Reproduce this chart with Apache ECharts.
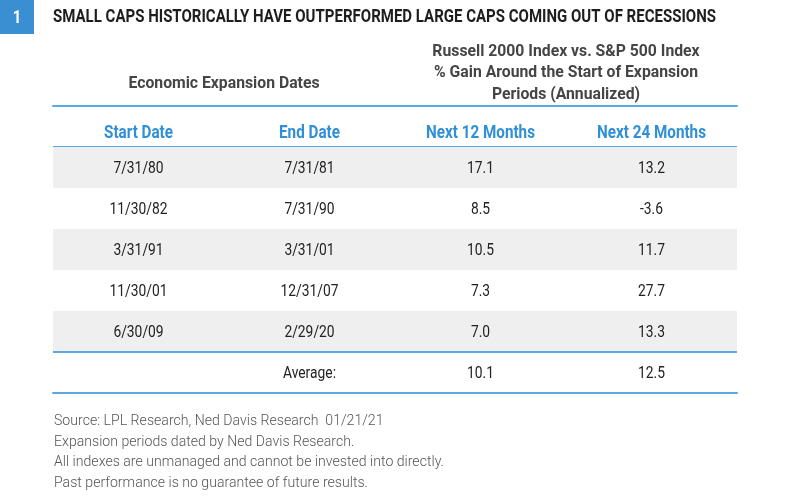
<!DOCTYPE html>
<html>
<head>
<meta charset="utf-8">
<script src="https://cdn.jsdelivr.net/npm/echarts@6/dist/echarts.min.js"></script>
<style>
  html, body { margin: 0; padding: 0; background: #fff; }
  #chart { width: 800px; height: 501px; }
</style>
</head>
<body>
<div id="chart"></div>
<script>
// table data
const columns = ["Start Date", "End Date", "Next 12 Months", "Next 24 Months"];
const startDates = ["7/31/80", "11/30/82", "3/31/91", "11/30/01", "6/30/09"];
const endDates = ["7/31/81", "7/31/90", "3/31/01", "12/31/07", "2/29/20"];
const next12 = [17.1, 8.5, 10.5, 7.3, 7.0];
const next24 = [13.2, -3.6, 11.7, 27.7, 13.3];
const averageLabel = "Average:";
const average12 = 10.1;
const average24 = 12.5;

const titleText = "SMALL CAPS HISTORICALLY HAVE OUTPERFORMED LARGE CAPS COMING OUT OF RECESSIONS";
const leftHeader = "Economic Expansion Dates";
const rightHeader = ["Russell 2000 Index vs. S&P 500 Index", "% Gain Around the Start of Expansion", "Periods (Annualized)"];
const notes = [
    "Source: LPL Research, Ned Davis Research  01/21/21",
    "Expansion periods dated by Ned Davis Research.",
    "All indexes are unmanaged and cannot be invested into directly.",
    "Past performance is no guarantee of future results."
];

const FAMILY = "Roboto, 'Liberation Sans', sans-serif";
const BLUE = "#2f8fd8";
const LINE = "#5aa9e3";
const SHADE = "#efefef";

const F_TITLE = "bold 18px " + FAMILY;
const F_HEAD = "bold 16px " + FAMILY;
const F_COL = "bold 18px " + FAMILY;
const F_BODY = "17px " + FAMILY;
const F_NOTE = "300 15px " + FAMILY;

// the original uses a condensed face; squeeze the installed one to the same widths
const measureCtx = document.createElement("canvas").getContext("2d");
function squeeze(text, font, width) {
    measureCtx.font = font;
    return width / measureCtx.measureText(text).width;
}
const kTitle = squeeze(titleText, F_TITLE, 663);
const kHead = squeeze(leftHeader, F_HEAD, 191);
const kCol = squeeze(columns[0], F_COL, 69);
const kBody = squeeze(startDates[1], F_BODY, 58);
const kNote = squeeze(notes[2], F_NOTE, 390);

// layout
const gridLeft = 53, gridRight = 63, gridTop = 106, gridBottom = 108;
const tableWidth = 800 - gridLeft - gridRight;

// rows: header + 5 expansions + average
const rowNames = ["header"].concat(startDates.map((d, i) => "row" + i), ["avg"]);
const cells = [];
columns.forEach((v, c) => cells.push({ value: [c, 0], text: v, kind: "header" }));
startDates.forEach((d, i) => {
    const vals = [d, endDates[i], next12[i].toFixed(1), next24[i].toFixed(1)];
    vals.forEach((v, c) => cells.push({ value: [c, i + 1], text: v, kind: i % 2 === 0 ? "shaded" : "plain" }));
});
["", averageLabel, average12.toFixed(1), average24.toFixed(1)].forEach((v, c) =>
    cells.push({ value: [c, startDates.length + 1], text: v, kind: "avg" }));

function renderCell(params, api) {
    const cell = cells[params.dataIndex];
    const p = api.coord([api.value(0), api.value(1)]);
    const s = api.size([1, 1]);
    const x0 = p[0] - s[0] / 2, y0 = p[1] - s[1] / 2;
    const children = [];
    if (cell.kind === "shaded") {
        children.push({ type: "rect", shape: { x: x0, y: y0, width: s[0], height: s[1] }, style: { fill: SHADE } });
    }
    if (cell.kind === "header") {
        children.push({ type: "line", shape: { x1: x0, y1: y0 + s[1], x2: x0 + s[0], y2: y0 + s[1] },
                        style: { stroke: LINE, lineWidth: 2 } });
    }
    if (cell.kind === "avg") {
        children.push({ type: "line", shape: { x1: x0, y1: y0, x2: x0 + s[0], y2: y0 },
                        style: { stroke: LINE, lineWidth: 2 } });
    }
    const isHead = cell.kind === "header";
    children.push({
        type: "text",
        x: p[0], y: p[1] + (isHead ? 6.5 : 1.5),
        scaleX: isHead ? kCol : kBody,
        style: { text: cell.text, x: 0, y: 0, align: "center", verticalAlign: "middle",
                 font: isHead ? F_COL : F_BODY, fill: isHead ? BLUE : "#222" }
    });
    return { type: "group", children: children };
}

const chart = echarts.init(document.getElementById("chart"), null, { renderer: "canvas" });

chart.setOption({
    backgroundColor: "#fff",
    animation: false,
    grid: { left: gridLeft, right: gridRight, top: gridTop, bottom: gridBottom },
    xAxis: [
        {
            type: "category", position: "top", data: columns,
            axisLine: { lineStyle: { color: LINE, width: 2 } },
            axisTick: { show: false }, axisLabel: { show: false }, splitLine: { show: false }
        },
        {
            type: "category", position: "bottom", data: columns,
            axisLine: { lineStyle: { color: LINE, width: 2 } },
            axisTick: { show: false }, axisLabel: { show: false }, splitLine: { show: false }
        }
    ],
    yAxis: { type: "category", inverse: true, data: rowNames, show: false },
    series: [{
        type: "custom",
        renderItem: renderCell,
        data: cells.map(c => c.value),
        silent: true
    }],
    graphic: [
        { type: "rect", shape: { x: 0, y: 0, width: 34, height: 34 }, style: { fill: "#3a8fd3" } },
        { type: "text", x: 17, y: 18, scaleX: kTitle,
          style: { text: "1", x: 0, y: 0, align: "center", verticalAlign: "middle", font: F_TITLE, fill: "#fff" } },
        { type: "text", x: gridLeft, y: 17, scaleX: kTitle,
          style: { text: titleText, x: 0, y: 0, verticalAlign: "middle", font: F_TITLE, fill: "#1e1e1e" } },
        { type: "text", x: gridLeft + tableWidth / 4, y: 83.5, scaleX: kHead,
          style: { text: leftHeader, x: 0, y: 0, align: "center", verticalAlign: "middle", font: F_HEAD, fill: "#454545" } },
        { type: "text", x: gridLeft + tableWidth * 3 / 4, y: 73, scaleX: kHead,
          style: { text: rightHeader.join("\n"), x: 0, y: 0, align: "center", verticalAlign: "middle",
                   lineHeight: 21.5, font: F_HEAD, fill: "#454545" } },
        { type: "text", x: gridLeft + 1, y: 411, scaleX: kNote,
          style: { text: notes.join("\n"), x: 0, y: 0, lineHeight: 20.5, font: F_NOTE, fill: "#555" } }
    ]
});
</script>
</body>
</html>
